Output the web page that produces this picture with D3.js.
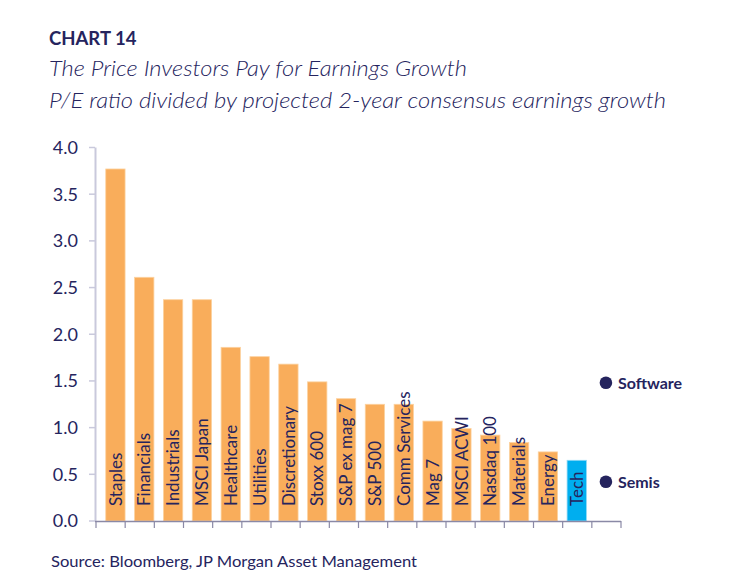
<!DOCTYPE html>
<html>
<head>
<meta charset="utf-8">
<script src="https://cdn.jsdelivr.net/npm/d3@7.9.0/dist/d3.min.js"></script>
<style>
  body { margin: 0; background: #fff; }
  svg { display: block; font-family: Lato, "Open Sans", sans-serif; }
</style>
</head>
<body>
<svg width="739" height="581"></svg>
<script>
// bars
const categories = ['Staples', 'Financials', 'Industrials', 'MSCI Japan', 'Healthcare', 'Utilities',
  'Discretionary', 'Stoxx 600', 'S&P ex mag 7', 'S&P 500', 'Comm Services', 'Mag 7',
  'MSCI ACWI', 'Nasdaq 100', 'Materials', 'Energy', 'Tech'];
const values = [3.77, 2.61, 2.37, 2.37, 1.86, 1.76, 1.68, 1.49, 1.31, 1.25, 1.25, 1.07,
  0.99, 0.92, 0.84, 0.74, 0.65];
// sub-sector dots in the last slot
const dotLabels = ['Software', 'Semis'];
const dotValues = [1.48, 0.42];
const yTicks = [0, 0.5, 1, 1.5, 2, 2.5, 3, 3.5, 4];

const navy = '#25245e';
const orange = '#f9ad5b';
const blue = '#00aeef';

const svg = d3.select('svg');
const slots = categories.concat(['__dots']);

let y = d3.scaleLinear().domain([0, 4]).range([521, 147.5]);
// bars
let x = d3.scaleBand().domain(slots).range([101, 620]).paddingInner(0.33).paddingOuter(0.165);
// axis ticks
let xAxisScale = d3.scaleBand().domain(slots).range([96, 621]);

// y axis
svg.append('line')
  .attr('x1', 95.5).attr('x2', 95.5)
  .attr('y1', y(4)).attr('y2', y(0))
  .attr('stroke', '#c9c9dc').attr('stroke-width', 2);
let yg = svg.append('g');
yTicks.forEach(t => {
  yg.append('line')
    .attr('x1', 89).attr('x2', 95)
    .attr('y1', y(t)).attr('y2', y(t))
    .attr('stroke', '#c9c9dc').attr('stroke-width', 1.5);
  yg.append('text')
    .attr('x', 78).attr('y', y(t))
    .attr('dy', '0.36em')
    .attr('text-anchor', 'end')
    .attr('font-size', 18)
    .attr('fill', navy)
    .text(d3.format('.1f')(t));
});

// bars
svg.append('g').selectAll('rect')
  .data(categories)
  .join('rect')
  .attr('x', d => x(d))
  .attr('width', x.bandwidth())
  .attr('y', (d, i) => y(values[i]))
  .attr('height', (d, i) => y(0) - y(values[i]))
  .attr('fill', (d, i) => d === 'Tech' ? blue : orange)
  .attr('stroke', (d, i) => d === 'Tech' ? '#8fd9f6' : '#fcd2a0')
  .attr('stroke-width', 0.8);

// labels inside bars
svg.append('g').selectAll('text')
  .data(categories)
  .join('text')
  .attr('transform', d => `translate(${x(d) + x.bandwidth() / 2},506) rotate(-90)`)
  .attr('dy', '0.36em')
  .attr('font-size', 17)
  .attr('fill', navy)
  .text(d => d);

// x axis
svg.append('line')
  .attr('x1', 95).attr('x2', 621)
  .attr('y1', 521.5).attr('y2', 521.5)
  .attr('stroke', '#8a89a6').attr('stroke-width', 1.5);
svg.append('g').selectAll('line')
  .data(slots.map(s => xAxisScale(s)).concat([621]))
  .join('line')
  .attr('x1', d => d).attr('x2', d => d)
  .attr('y1', 521).attr('y2', 528)
  .attr('stroke', '#8a89a6').attr('stroke-width', 1.2);

// dots
let dotX = xAxisScale('__dots') + xAxisScale.bandwidth() / 2 - 0.5;
dotLabels.forEach((lab, i) => {
  svg.append('circle')
    .attr('cx', dotX).attr('cy', y(dotValues[i]))
    .attr('r', 6.3)
    .attr('fill', navy);
  svg.append('text')
    .attr('x', dotX + 12).attr('y', y(dotValues[i]))
    .attr('dy', '0.36em')
    .attr('font-size', 16)
    .attr('font-weight', 700)
    .attr('fill', navy)
    .text(lab);
});

// titles
svg.append('text')
  .attr('x', 49).attr('y', 45)
  .attr('font-size', 18.5).attr('font-weight', 700)
  .attr('fill', navy)
  .text('CHART 14');
svg.append('text')
  .attr('x', 49).attr('y', 76)
  .attr('font-size', 22).attr('font-style', 'italic').attr('font-weight', 300)
  .attr('fill', navy)
  .attr('textLength', 418).attr('lengthAdjust', 'spacingAndGlyphs')
  .text('The Price Investors Pay for Earnings Growth');
svg.append('text')
  .attr('x', 49).attr('y', 108)
  .attr('font-size', 22).attr('font-style', 'italic').attr('font-weight', 300)
  .attr('fill', navy)
  .attr('textLength', 617).attr('lengthAdjust', 'spacingAndGlyphs')
  .text('P/E ratio divided by projected 2-year consensus earnings growth');

// source
svg.append('text')
  .attr('x', 51).attr('y', 566.5)
  .attr('font-size', 16)
  .attr('fill', navy)
  .attr('textLength', 366).attr('lengthAdjust', 'spacingAndGlyphs')
  .text('Source: Bloomberg, JP Morgan Asset Management');
</script>
</body>
</html>
